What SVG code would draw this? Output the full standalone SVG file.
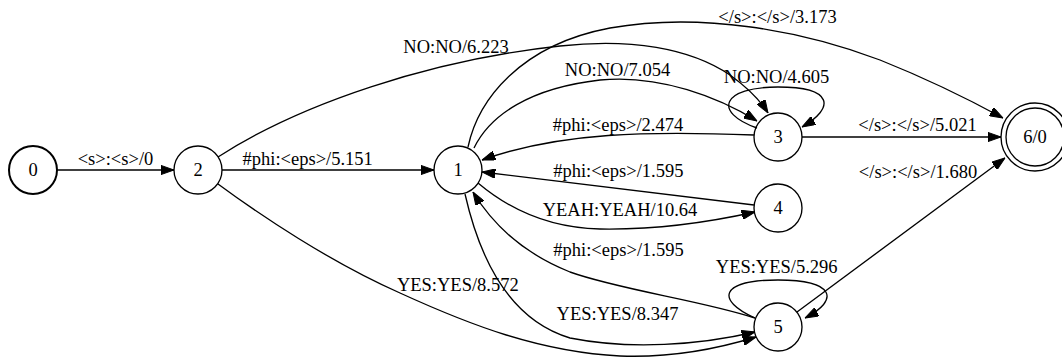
<svg xmlns="http://www.w3.org/2000/svg" width="1062" height="360" viewBox="0 0 1062 360">
<style>
  .n circle { fill: none; stroke: #000; stroke-width: 1.33; }
  .n text, .lbl { font-family: "Liberation Serif", "Times New Roman", serif; font-size: 18.5px; fill: #000; text-anchor: middle; }
  .e { fill: none; stroke: #000; stroke-width: 1.33; marker-end: url(#ah); }
  .loop { fill: none; stroke: #000; stroke-width: 1.33; marker-end: url(#ah); }
</style>
<defs>
  <marker id="ah" viewBox="0 0 13.3 9.4" refX="13.3" refY="4.7" markerWidth="13.3" markerHeight="9.4" markerUnits="userSpaceOnUse" orient="auto">
    <path d="M0,0 L13.3,4.7 L0,9.4 z" fill="#000" stroke="#000" stroke-width="1"/>
  </marker>
</defs>
<rect width="1062" height="360" fill="#fff"/>
<g id="connectors">
  <path class="e" d="M57,170 L174,170"/>
  <path class="e" d="M222,170 L434,170"/>
  <path class="e" d="M218,157 C 300,104 430,60 560,46 C 630,38 690,48 730,75 C 748,88 760,100 768,113"/>
  <path class="e" d="M468,147 C 478,100 520,45 610,28 C 700,12 800,30 880,60 C 935,82 970,100 1003,118"/>
  <path class="e" d="M474,148 C 490,115 530,88 600,80 C 660,74 720,98 757,121"/>
  <path class="loop" d="M757,128 C 712,112 722,87 778,87 C 834,87 835,108 802,127"/>
  <path class="e" d="M754,135 C 650,131 560,132 482,160"/>
  <path class="e" d="M802,137 L1001,137"/>
  <path class="e" d="M754,205 L482,172"/>
  <path class="e" d="M478,183 C 510,210 550,228 600,229 C 660,230 710,222 755,212"/>
  <path class="e" d="M755,318 C 700,300 620,290 570,272 C 520,252 490,220 473,192"/>
  <path class="e" d="M465,194 C 480,260 510,320 570,338 C 630,350 700,345 755,332"/>
  <path class="e" d="M218,184 C 260,215 330,262 400,293 C 470,325 540,352 620,356 C 670,358 720,348 756,337"/>
  <path class="loop" d="M755,318 C 715,300 720,280 778,280 C 835,280 840,300 805,318"/>
  <path class="e" d="M797,312 L1005,158"/>
  <text class="lbl" x="115.5" y="165">&lt;s&gt;:&lt;s&gt;/0</text>
  <text class="lbl" x="307.7" y="165">#phi:&lt;eps&gt;/5.151</text>
  <text class="lbl" x="456" y="53">NO:NO/6.223</text>
  <text class="lbl" x="777.5" y="23">&lt;/s&gt;:&lt;/s&gt;/3.173</text>
  <text class="lbl" x="617.5" y="76">NO:NO/7.054</text>
  <text class="lbl" x="776.5" y="83">NO:NO/4.605</text>
  <text class="lbl" x="618" y="131">#phi:&lt;eps&gt;/2.474</text>
  <text class="lbl" x="917.5" y="131">&lt;/s&gt;:&lt;/s&gt;/5.021</text>
  <text class="lbl" x="618.3" y="177">#phi:&lt;eps&gt;/1.595</text>
  <text class="lbl" x="918" y="178">&lt;/s&gt;:&lt;/s&gt;/1.680</text>
  <text class="lbl" x="620" y="216">YEAH:YEAH/10.64</text>
  <text class="lbl" x="618.5" y="256">#phi:&lt;eps&gt;/1.595</text>
  <text class="lbl" x="776.7" y="273">YES:YES/5.296</text>
  <text class="lbl" x="457.8" y="291">YES:YES/8.572</text>
  <text class="lbl" x="617.5" y="320">YES:YES/8.347</text>
</g>
<g id="node0" class="n"><circle cx="33" cy="170" r="24" style="stroke-width:2"/><text x="33" y="176">0</text></g>
<g id="node2" class="n"><circle cx="198" cy="170" r="24"/><text x="198" y="176">2</text></g>
<g id="node1" class="n"><circle cx="458" cy="170" r="24"/><text x="458" y="176">1</text></g>
<g id="node3" class="n"><circle cx="778" cy="137" r="24"/><text x="778" y="143">3</text></g>
<g id="node4" class="n"><circle cx="778" cy="208" r="24"/><text x="778" y="214">4</text></g>
<g id="node5" class="n"><circle cx="778" cy="327" r="24"/><text x="778" y="333">5</text></g>
<g id="node6" class="n"><circle cx="1035" cy="137" r="29"/><circle cx="1035" cy="137" r="34"/><text x="1035" y="143">6/0</text></g>
</svg>
